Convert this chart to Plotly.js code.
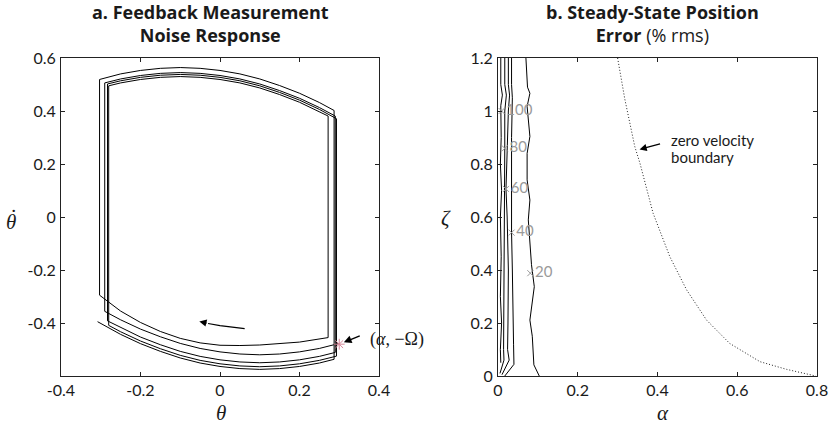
<!DOCTYPE html>
<html>
<head>
<meta charset="utf-8">
<script src="https://cdn.plot.ly/plotly-3.0.1.min.js"></script>
<style>html,body{margin:0;padding:0;background:#fff;}#chart{width:838px;height:427px;}</style>
</head>
<body>
<div id="chart"></div>
<script>
// ---------- Panel a: phase trajectory (theta, theta-dot) ----------
const bottom1Theta = [0.3,0.25,0.2,0.15,0.1,0.05,0,-0.05,-0.1,-0.15,-0.2,-0.25,-0.29];
const bottom1Rate  = [-0.477,-0.496,-0.509,-0.517,-0.52,-0.517,-0.509,-0.496,-0.477,-0.452,-0.423,-0.388,-0.356];
const top1Theta    = [-0.29,-0.25,-0.2,-0.15,-0.1,-0.05,0,0.05,0.1,0.15,0.2,0.25,0.29];
const top1Rate     = [0.506,0.521,0.534,0.542,0.545,0.542,0.534,0.521,0.502,0.477,0.448,0.413,0.381];
const bottom2Theta = [0.29,0.25,0.2,0.15,0.1,0.05,0,-0.05,-0.1,-0.15,-0.2,-0.25,-0.283];
const bottom2Rate  = [-0.511,-0.526,-0.539,-0.547,-0.55,-0.547,-0.539,-0.526,-0.507,-0.482,-0.453,-0.418,-0.392];
const top2Theta    = [-0.283,-0.25,-0.2,-0.15,-0.1,-0.05,0,0.05,0.1,0.15,0.2,0.25,0.293];
const top2Rate     = [0.502,0.514,0.527,0.535,0.538,0.535,0.527,0.514,0.495,0.470,0.441,0.406,0.371];
const bottom3Theta = [0.293,0.25,0.2,0.15,0.1,0.05,0,-0.05,-0.1,-0.15,-0.2,-0.25,-0.28];
const bottom3Rate  = [-0.525,-0.541,-0.554,-0.562,-0.565,-0.562,-0.554,-0.541,-0.522,-0.497,-0.468,-0.433,-0.409];
const top3Theta    = [-0.28,-0.25,-0.2,-0.15,-0.1,-0.05,0,0.05,0.1,0.15,0.2,0.25,0.272];
const top3Rate     = [0.495,0.506,0.519,0.527,0.53,0.527,0.519,0.506,0.487,0.462,0.433,0.398,0.381];
const bottom4Theta = [0.272,0.2,0.1,0.05,0,-0.05,-0.1,-0.15,-0.2,-0.25,-0.303];
const bottom4Rate  = [-0.455,-0.472,-0.483,-0.485,-0.484,-0.475,-0.458,-0.432,-0.398,-0.355,-0.295];
const top4Theta    = [-0.303,-0.25,-0.2,-0.15,-0.1,-0.05,0,0.05,0.1,0.15,0.2,0.25,0.287];
const top4Rate     = [0.519,0.540,0.553,0.561,0.564,0.561,0.553,0.540,0.521,0.496,0.467,0.432,0.402];
const bottom5Theta = [0.287,0.25,0.2,0.15,0.1,0.05,0,-0.05,-0.1,-0.15,-0.2,-0.25,-0.308];
const bottom5Rate  = [-0.537,-0.551,-0.564,-0.572,-0.575,-0.572,-0.564,-0.551,-0.532,-0.507,-0.478,-0.443,-0.395];

const markTheta = [0.3];
const markRate  = [-0.48];
const dirArrowTheta = [0.062, 0.03, 0.0, -0.03];
const dirArrowRate  = [-0.421, -0.416, -0.41, -0.402];

const xTicksA = [-0.4,-0.2,0,0.2,0.4];
const xTickTextA = ['-0.4','-0.2','0','0.2','0.4'];
const yTicksA = [-0.4,-0.2,0,0.2,0.4,0.6];
const yTickTextA = ['-0.4','-0.2','0','0.2','0.4','0.6'];

// ---------- Panel b: error contours (alpha, zeta) ----------
const c100Alpha = [0.007,0.007,0.011,0.007,0.008,0.006,0.009,0.006,0.008,0.006,0.009,0.006,0.007];
const c100Zeta  = [1.2,1.1,1.06,1.02,0.9,0.8,0.7,0.6,0.45,0.3,0.2,0.1,0.05];
const c80Alpha  = [0.017,0.017,0.021,0.017,0.017,0.016,0.015,0.014,0.014,0.015,0.005];
const c80Zeta   = [1.2,1.1,1.06,1.0,0.86,0.7,0.5,0.3,0.1,0.06,0.01];
const c60Alpha  = [0.026,0.026,0.029,0.026,0.022,0.02,0.023,0.026,0.025,0.024,0.028,0.01];
const c60Zeta   = [1.2,1.1,1.06,1.0,0.8,0.706,0.6,0.4,0.2,0.1,0.06,0.005];
const c40Alpha  = [0.034,0.034,0.036,0.034,0.034,0.034,0.036,0.037,0.039,0.04,0.017];
const c40Zeta   = [1.2,1.1,1.05,0.9,0.7,0.541,0.4,0.2,0.12,0.044,0];
const c20Alpha  = [0.070,0.074,0.080,0.073,0.080,0.073,0.073,0.080,0.076,0.080,0.084,0.091,0.086,0.080,0.086,0.090,0.1035];
const c20Zeta   = [1.2,1.09,1.067,1.017,0.904,0.84,0.74,0.664,0.589,0.507,0.42,0.337,0.28,0.211,0.15,0.042,0];

const contourLevels = ['100','80','60','40','20'];
const labelAlpha = [0.009,0.017,0.02,0.034,0.081];
const labelZeta  = [1.0,0.859,0.706,0.541,0.388];

const boundaryAlpha = [0.300,0.318,0.343,0.356,0.389,0.431,0.473,0.523,0.581,0.657,0.724,0.790,0.797];
const boundaryZeta  = [1.2,1.045,0.866,0.803,0.614,0.45,0.325,0.211,0.123,0.054,0.025,0.004,0];

const xTicksB = [0,0.2,0.4,0.6,0.8];
const yTicksB = [0,0.2,0.4,0.6,0.8,1,1.2];

// ---------- build ----------
const trajTheta = [].concat(bottom1Theta, top1Theta, bottom2Theta, top2Theta, bottom3Theta, top3Theta, bottom4Theta, top4Theta, bottom5Theta);
const trajRate  = [].concat(bottom1Rate, top1Rate, bottom2Rate, top2Rate, bottom3Rate, top3Rate, bottom4Rate, top4Rate, bottom5Rate);

const W = 838, H = 427;
const px = v => v / W;
const py = v => 1 - v / H;
const sans = 'Lato, "Open Sans", sans-serif';
const titleFont = '"Open Sans", Lato, sans-serif';
const serif = '"Liberation Serif", "DejaVu Serif", serif';
const ink = '#1a1a1a';

const traces = [
  {x: trajTheta, y: trajRate, xaxis:'x', yaxis:'y', mode:'lines', line:{color:'#000', width:1}, hoverinfo:'skip'},
  {x: dirArrowTheta, y: dirArrowRate, xaxis:'x', yaxis:'y', mode:'lines', line:{color:'#000', width:1.2}, hoverinfo:'skip'},
  {x: markTheta, y: markRate, xaxis:'x', yaxis:'y', mode:'markers', marker:{symbol:'asterisk-open', size:9, color:'#d88a9c', line:{color:'#d88a9c', width:1}}},
  {x: c100Alpha, y: c100Zeta, xaxis:'x2', yaxis:'y2', mode:'lines', line:{color:'#000', width:1}},
  {x: c80Alpha, y: c80Zeta, xaxis:'x2', yaxis:'y2', mode:'lines', line:{color:'#000', width:1}},
  {x: c60Alpha, y: c60Zeta, xaxis:'x2', yaxis:'y2', mode:'lines', line:{color:'#000', width:1}},
  {x: c40Alpha, y: c40Zeta, xaxis:'x2', yaxis:'y2', mode:'lines', line:{color:'#000', width:1}},
  {x: c20Alpha, y: c20Zeta, xaxis:'x2', yaxis:'y2', mode:'lines', line:{color:'#000', width:1}},
  {x: boundaryAlpha, y: boundaryZeta, xaxis:'x2', yaxis:'y2', mode:'lines', line:{color:'#222', width:1, dash:'1px,2px'}},
  {x: labelAlpha, y: labelZeta, xaxis:'x2', yaxis:'y2', mode:'markers+text', text: contourLevels, textposition:'middle right',
   textfont:{family:sans, size:15, color:'#9a9a9a'}, marker:{symbol:'x-thin-open', size:6, color:'#9a9a9a', line:{color:'#9a9a9a', width:1}}}
];

const axisCommon = {
  showgrid:false, zeroline:false, showline:true, linecolor:'#222', linewidth:1,
  ticks:'inside', ticklen:4, tickcolor:'#222', mirror:'ticks',
  tickfont:{family:sans, size:16, color:ink}
};

function label(x, y, text, font, xanchor, yanchor) {
  return {xref:'paper', yref:'paper', x:px(x), y:py(y), text:text, showarrow:false,
          xanchor: xanchor || 'center', yanchor: yanchor || 'middle', font:font};
}

const layout = {
  width: W, height: H,
  margin:{l:0, r:0, t:0, b:0},
  paper_bgcolor:'#fff', plot_bgcolor:'#fff',
  showlegend:false,
  xaxis: Object.assign({}, axisCommon, {domain:[px(61), px(379)], range:[-0.4,0.4], tickvals:xTicksA, ticktext:xTickTextA, anchor:'y', ticklabelstandoff:0}),
  yaxis: Object.assign({}, axisCommon, {domain:[py(376), py(58)], range:[-0.6,0.6], tickvals:yTicksA, ticktext:yTickTextA, anchor:'x', ticklabelstandoff:1}),
  xaxis2: Object.assign({}, axisCommon, {domain:[px(498), px(817)], range:[0,0.8], tickvals:xTicksB, anchor:'y2', ticklabelstandoff:0}),
  yaxis2: Object.assign({}, axisCommon, {domain:[py(376), py(58)], range:[0,1.2], tickvals:yTicksB, anchor:'x2', ticklabelstandoff:1}),
  annotations: [
    label(210, 24, '<b>a. Feedback Measurement</b><br><b>Noise Response</b>', {family:titleFont, size:18, color:ink}),
    label(652, 24, '<b>b. Steady-State Position</b><br><b>Error</b> (% rms)', {family:titleFont, size:18, color:ink}),
    label(11, 222, '<i>θ</i>', {family:serif, size:21, color:ink}),
    label(13.5, 216, '˙', {family:serif, size:22, color:ink}),
    label(221, 427, '<i>θ</i>', {family:serif, size:21, color:ink}, 'center', 'bottom'),
    label(446, 218, '<i>ζ</i>', {family:serif, size:21, color:ink}),
    label(663, 427, '<i>α</i>', {family:serif, size:21, color:ink}, 'center', 'bottom'),
    // direction arrow head (panel a)
    {xref:'x', yref:'y', axref:'x', ayref:'y', x:-0.052, y:-0.394, ax:-0.03, ay:-0.402, text:'', showarrow:true, arrowhead:2, arrowsize:1.2, arrowwidth:1.2, arrowcolor:'#000'},
    // (alpha, -Omega) label
    {xref:'x', yref:'y', x:0.3, y:-0.48, ax:22, ay:-9, text:'', showarrow:true, arrowhead:2, arrowsize:1.1, arrowwidth:1.4, arrowcolor:'#000', standoff:5},
    label(368, 339, '(<i>α</i>, −Ω)', {family:serif, size:18, color:ink}, 'left'),
    // zero velocity boundary
    {xref:'x2', yref:'y2', x:0.355, y:0.855, ax:22, ay:-6, text:'', showarrow:true, arrowhead:2, arrowsize:1.1, arrowwidth:1.3, arrowcolor:'#000'},
    label(669, 140, 'zero velocity', {family:sans, size:15, color:ink}, 'left'),
    label(669, 157, 'boundary', {family:sans, size:15, color:ink}, 'left')
  ]
};

Plotly.newPlot('chart', traces, layout, {staticPlot:true, displayModeBar:false});
</script>
</body>
</html>
